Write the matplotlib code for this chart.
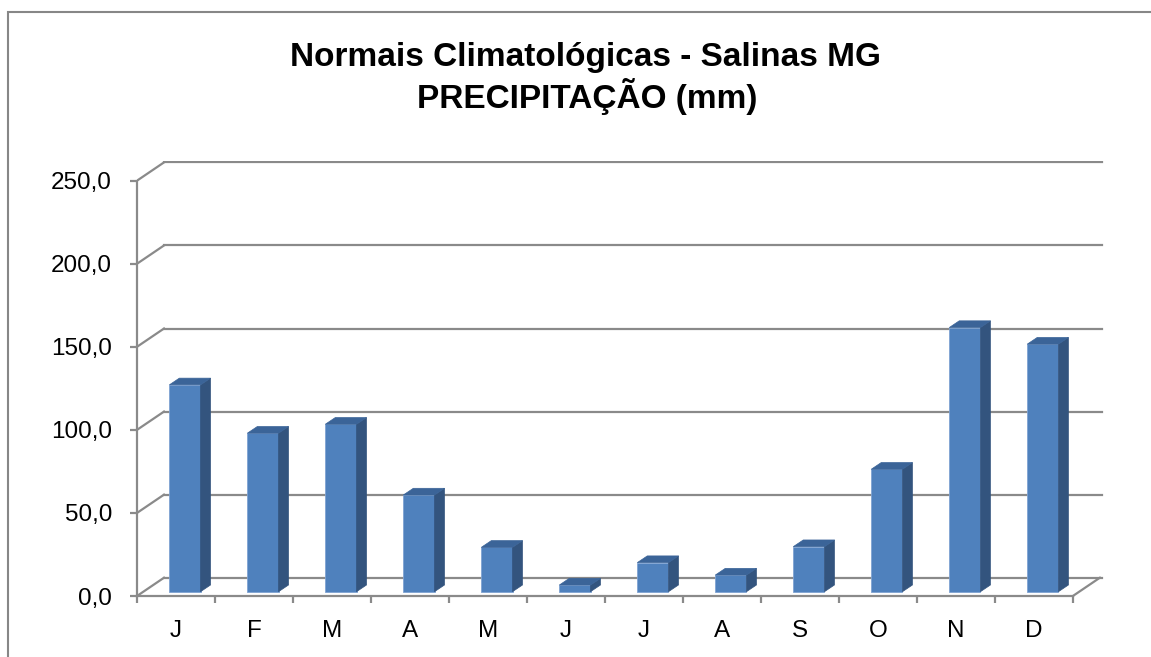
import matplotlib
matplotlib.use("Agg")
import matplotlib.pyplot as plt
from matplotlib.patches import Polygon, Rectangle
from matplotlib.lines import Line2D

# ---- data ----
months = ["J", "F", "M", "A", "M", "J", "J", "A", "S", "O", "N", "D"]
precip = [124.5, 95.4, 100.8, 58.2, 26.7, 4.0, 17.5, 10.0, 27.1, 73.7, 159.0, 149.0]
yticks = [0, 50, 100, 150, 200, 250]
title1 = "Normais Climatológicas - Salinas MG"
title2 = "PRECIPITAÇÃO (mm)"

plt.rcParams['font.family'] = ['Liberation Sans', 'DejaVu Sans']

W, H = 1151, 657
fig = plt.figure(figsize=(W / 100, H / 100), dpi=100)
fig.patch.set_facecolor('white')

# chart border
fig.add_artist(Rectangle((8 / W, -0.2), 1.5, 1.2 - 12 / H, transform=fig.transFigure,
                         fill=False, edgecolor='#878787', linewidth=1.5))

n = len(months)
xmax = 12.4
ymax = 262
ax = fig.add_axes([137 / W, 61 / H, 0.8402, 0.6625])
ax.set_xlim(0, xmax)
ax.set_ylim(0, ymax)
ax.patch.set_alpha(0)

grid_c = '#8a8a8a'
# 3D offsets in data units
floor_dx, floor_dy = 0.346, 11.0     # full depth of the floor
front_dx, front_dy = 0.115, 2.6      # position of bar front face
depth_dx, depth_dy = 0.128, 4.03     # bar depth
bw = 0.4

# back wall gridlines + side wall diagonals
for v in yticks:
    ax.add_line(Line2D([floor_dx, xmax - 0.03], [v + floor_dy, v + floor_dy], color=grid_c, lw=1.6, zorder=1))
    ax.add_line(Line2D([0, floor_dx], [v, v + floor_dy], color=grid_c, lw=1.6, zorder=1))
# floor right edge
ax.add_line(Line2D([n, n + floor_dx], [0, floor_dy], color=grid_c, lw=1.6, zorder=1, clip_on=False))

# bars
front_c = '#4F81BD'
side_c = '#33547E'
top_c = '#3B6498'
xs = [i + 0.5 + front_dx for i in range(n)]
ax.bar(xs, precip, width=bw, bottom=front_dy, color=front_c, edgecolor='#7fa3d3', linewidth=0.6, zorder=3)
for x, v in zip(xs, precip):
    b = front_dy
    r = x + bw / 2
    l = x - bw / 2
    side = Polygon([(r, b), (r + depth_dx, b + depth_dy), (r + depth_dx, b + v + depth_dy), (r, b + v)],
                   closed=True, facecolor=side_c, edgecolor=side_c, lw=0.5, zorder=3)
    top = Polygon([(l, b + v), (l + depth_dx, b + v + depth_dy), (r + depth_dx, b + v + depth_dy), (r, b + v)],
                  closed=True, facecolor=top_c, edgecolor=top_c, lw=0.5, zorder=3)
    ax.add_patch(side)
    ax.add_patch(top)

# axes
for s in ['top', 'right']:
    ax.spines[s].set_visible(False)
ax.spines['left'].set_bounds(0, 250)
ax.spines['bottom'].set_bounds(0, n)
for s in ['left', 'bottom']:
    ax.spines[s].set_color(grid_c)
    ax.spines[s].set_linewidth(1.6)
    ax.spines[s].set_zorder(2)

ax.set_yticks(yticks)
ax.set_yticklabels([f"{v:.1f}".replace('.', ',') for v in yticks])
ax.tick_params(axis='y', length=5, width=1.6, color=grid_c, pad=13, labelsize=17.5, labelcolor='black')

ax.set_xticks(range(n + 1))
ax.set_xticklabels([''] * (n + 1))
ax.set_xticks([i + 0.5 for i in range(n)], minor=True)
ax.set_xticklabels(months, minor=True)
ax.tick_params(axis='x', which='major', length=5, width=1.6, color=grid_c)
ax.tick_params(axis='x', which='minor', length=0, pad=17, labelsize=17.5, labelcolor='black')

fig.text(585 / W, 1 - 66 / H, title1, ha='center', va='baseline', fontsize=24, fontweight='bold')
fig.text(587 / W, 1 - 108 / H, title2, ha='center', va='baseline', fontsize=24, fontweight='bold')

fig.savefig("out.png", dpi=100)
